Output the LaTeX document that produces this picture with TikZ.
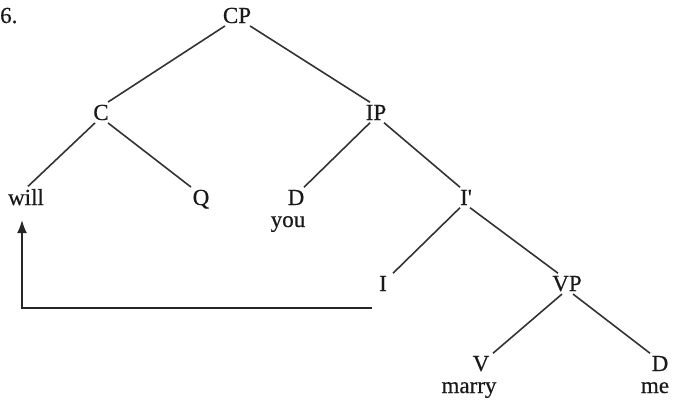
\documentclass[tikz,border=0pt]{standalone}
\usepackage{fontspec}
\setmainfont{Liberation Serif}
\newfontfamily\heavy{Liberation Serif}[FakeBold=0.5]
\usetikzlibrary{arrows.meta}
\begin{document}
\begin{tikzpicture}[x=1pt,y=-1pt,
  lab/.style={anchor=base,inner sep=2.5pt,font=\heavy\fontsize{23}{26}\selectfont,text=black!90},
  br/.style={line width=1.6pt,black!80},
  mv/.style={line width=1.9pt,black!85,-{Latex[length=13pt,width=10pt]}}]
\useasboundingbox (0,0) rectangle (685,407);
\node[lab,anchor=base west,inner sep=0pt] (num) at (0,23) {6.};
\node[lab] (CP) at (237,23) {CP};
\node[lab] (C) at (101,120) {C};
\node[lab] (IP) at (376,120) {IP};
\node[lab] (will) at (26,205) {will};
\node[lab] (Q) at (201,205) {Q};
\node[lab] (D1) at (296,205) {D};
\node[lab] (you) at (288,227) {you};
\node[lab] (Ib) at (466,205) {I\textquotesingle};
\node[lab] (I) at (383,291) {I};
\node[lab] (VP) at (567,291) {VP};
\node[lab] (V) at (481,371) {V};
\node[lab] (marry) at (469,393) {marry};
\node[lab] (D2) at (660,371) {D};
\node[lab] (me) at (655,393) {me};
% branches
\draw[br] ([xshift=-12pt]CP.south) -- ([xshift=7pt]C.north);
\draw[br] ([xshift=13pt]CP.south) -- ([xshift=-6pt]IP.north);
\draw[br] ([xshift=-6pt]C.south) -- ([xshift=2pt]will.north);
\draw[br] ([xshift=7pt]C.south) -- ([xshift=-10pt]Q.north);
\draw[br] ([xshift=-6pt]IP.south) -- ([xshift=8pt]D1.north);
\draw[br] ([xshift=8pt]IP.south) -- ([xshift=-6pt]Ib.north);
\draw[br] ([xshift=-6pt]Ib.south) -- ([xshift=10pt]I.north);
\draw[br] ([xshift=4pt]Ib.south) -- ([xshift=-9pt]VP.north);
\draw[br] ([xshift=-5pt]VP.south) -- ([xshift=12pt]V.north);
\draw[br] ([xshift=6pt]VP.south) -- ([xshift=-10pt]D2.north);
% movement arrow
\coordinate (a0) at (372,308);
\coordinate (a1) at (22,308);
\coordinate (a2) at (22,220);
\draw[mv] (a0) -- (a1) -- (a2);
\end{tikzpicture}
\end{document}
